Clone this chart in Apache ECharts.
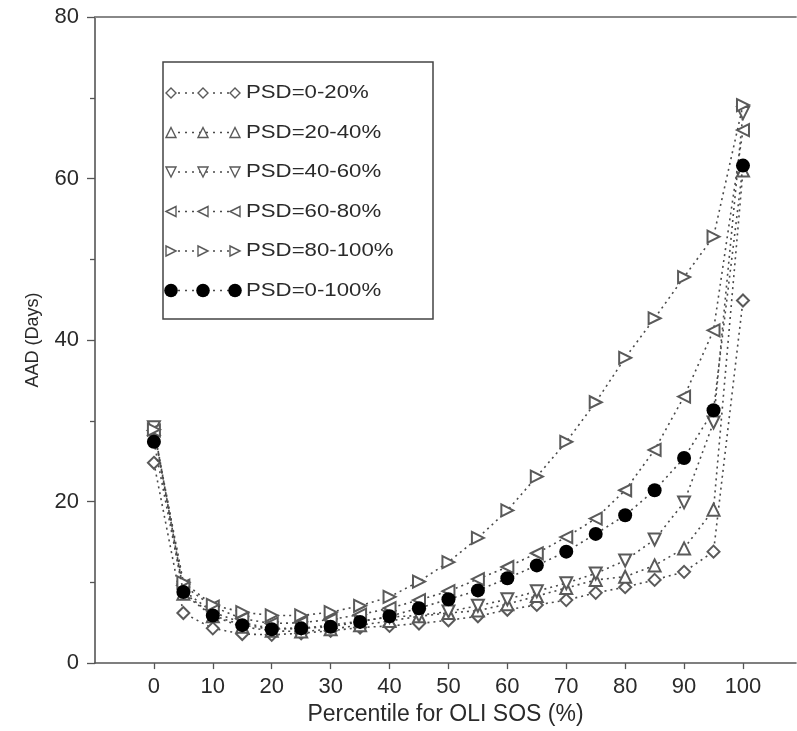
<!DOCTYPE html>
<html>
<head>
<meta charset="utf-8">
<script src="https://cdn.jsdelivr.net/npm/echarts@6/dist/echarts.min.js"></script>
<style>html,body{margin:0;padding:0;background:#fff;}#c{width:797px;height:731px;}</style>
</head>
<body>
<div id="c"></div>
<script>
// ---- data ----
const percentiles = [0,5,10,15,20,25,30,35,40,45,50,55,60,65,70,75,80,85,90,95,100];
const xTickValues = [0,10,20,30,40,50,60,70,80,90,100];
const seriesNames = ['PSD=0-20%','PSD=20-40%','PSD=40-60%','PSD=60-80%','PSD=80-100%','PSD=0-100%'];
const psd0_20   = [24.8,6.2,4.3,3.6,3.5,3.7,4.0,4.4,4.6,4.9,5.3,5.8,6.6,7.2,7.8,8.7,9.4,10.3,11.3,13.8,44.9];
const psd20_40  = [29.0,8.6,5.8,4.5,4.0,3.9,4.2,4.7,5.2,5.8,6.2,6.5,7.3,8.3,9.3,10.3,10.7,12.1,14.2,19.0,61.0];
const psd40_60  = [29.2,9.0,6.3,5.0,4.3,4.3,4.7,5.2,5.7,5.9,6.4,7.1,7.9,8.9,9.9,11.1,12.7,15.3,19.9,29.8,68.1];
const psd60_80  = [28.8,9.6,7.0,5.5,4.9,5.0,5.4,6.0,6.8,7.8,8.9,10.4,11.9,13.6,15.6,17.9,21.4,26.4,33.0,41.2,66.0];
const psd80_100 = [28.9,10.0,7.2,6.3,5.9,5.9,6.3,7.1,8.2,10.1,12.5,15.5,18.9,23.1,27.4,32.3,37.8,42.7,47.8,52.8,69.1];
const psd0_100  = [27.4,8.8,5.9,4.7,4.2,4.3,4.5,5.1,5.8,6.8,7.9,9.0,10.5,12.1,13.8,16.0,18.3,21.4,25.4,31.3,61.6];
const allValues = [psd0_20, psd20_40, psd40_60, psd60_80, psd80_100, psd0_100];

// ---- styles ----
const FONT = "'Liberation Sans', Arial, Helvetica, sans-serif";
const TXT = '#2a2a2a';
const LINE = '#4a4a4a';
const MK = '#5a5a5a';
const symbolDefs = [
  {symbol:'emptyDiamond', rotate:0, size:12, kind:'diamond'},
  {symbol:'emptyTriangle', rotate:0, size:12, kind:'up'},
  {symbol:'emptyTriangle', rotate:180, size:12, kind:'down'},
  {symbol:'emptyTriangle', rotate:90, size:12, kind:'left'},
  {symbol:'emptyTriangle', rotate:-90, size:12, kind:'right'},
  {symbol:'circle', rotate:0, size:14, kind:'circle'}
];

const series = allValues.map((vals, k) => ({
  name: seriesNames[k],
  type: 'line',
  data: percentiles.map((p, i) => [p, vals[i]]),
  symbol: symbolDefs[k].symbol,
  symbolRotate: symbolDefs[k].rotate,
  symbolSize: symbolDefs[k].size,
  showAllSymbol: true,
  lineStyle: {color: LINE, width: 1.6, type: [2, 4]},
  itemStyle: {color: k === 5 ? '#000' : MK, borderWidth: 1.5},
  emphasis: {disabled: true},
  animation: false,
  z: 2 + k
}));

// ---- legend built as graphic ----
function shapeFor(kind, cx, cy, s) {
  const h = s / 2;
  const style = {fill: '#fff', stroke: MK, lineWidth: 1.4};
  let pts;
  if (kind === 'circle') return {type:'circle', shape:{cx:cx, cy:cy, r:6.8}, style:{fill:'#000'}, z:110};
  if (kind === 'diamond') pts = [[cx,cy-h],[cx+h,cy],[cx,cy+h],[cx-h,cy]];
  if (kind === 'up') pts = [[cx,cy-h],[cx+h,cy+h],[cx-h,cy+h]];
  if (kind === 'down') pts = [[cx,cy+h],[cx+h,cy-h],[cx-h,cy-h]];
  if (kind === 'left') pts = [[cx-h,cy],[cx+h,cy-h],[cx+h,cy+h]];
  if (kind === 'right') pts = [[cx+h,cy],[cx-h,cy-h],[cx-h,cy+h]];
  return {type:'polygon', shape:{points:pts}, style:style, z:110};
}
const legendEls = [{
  type:'rect', shape:{x:163, y:62, width:270, height:257},
  style:{fill:'#fff', stroke:'#444', lineWidth:1.5}, z:100
}];
const symX = [171, 203, 235];
seriesNames.forEach((nm, k) => {
  const y = 93 + k * 39.5;
  legendEls.push({type:'line', shape:{x1:symX[0], y1:y, x2:symX[2], y2:y},
    style:{stroke:LINE, lineWidth:1.4, lineDash:[2,5]}, z:105});
  symX.forEach(x => legendEls.push(shapeFor(symbolDefs[k].kind, x, y, 10)));
  legendEls.push({type:'text', x:246, y:y, scaleX:1.2, z:110,
    style:{text:nm, font:'18.5px ' + FONT, fill:TXT, verticalAlign:'middle', align:'left'}});
});

const chart = echarts.init(document.getElementById('c'), null, {renderer:'canvas'});
chart.setOption({
  animation: false,
  backgroundColor: '#fff',
  grid: {left:95, right:1, top:17, bottom:67, containLabel:false},
  xAxis: [{
    type:'value', min:-10, max:109, position:'bottom',
    name:'Percentile for OLI SOS (%)', nameLocation:'middle', nameGap:37,
    nameTextStyle:{fontFamily:FONT, fontSize:23, color:TXT},
    axisLine:{show:true, onZero:false, lineStyle:{color:'#555', width:1.6}},
    axisTick:{show:true, length:6, customValues:xTickValues, lineStyle:{color:'#555', width:1.3}},
    axisLabel:{customValues:xTickValues, fontFamily:FONT, fontSize:22, color:TXT, margin:13},
    splitLine:{show:false}
  }, {
    type:'value', min:-10, max:109, position:'top',
    axisLine:{show:true, onZero:false, lineStyle:{color:'#888', width:1.8}},
    axisTick:{show:false}, axisLabel:{show:false}, splitLine:{show:false}
  }],
  yAxis: {
    type:'value', min:0, max:80, interval:20,
    name:'AAD (Days)', nameLocation:'middle', nameGap:53,
    nameTextStyle:{fontFamily:FONT, fontSize:18, color:TXT},
    axisLine:{show:true, onZero:false, lineStyle:{color:'#555', width:1.6}},
    axisTick:{show:true, length:8, lineStyle:{color:'#555', width:1.3}},
    minorTick:{show:true, splitNumber:2, length:5, lineStyle:{color:'#555', width:1.3}},
    axisLabel:{fontFamily:FONT, fontSize:22, color:TXT, margin:16},
    splitLine:{show:false}
  },
  series: series,
  graphic: legendEls
});
</script>
</body>
</html>
